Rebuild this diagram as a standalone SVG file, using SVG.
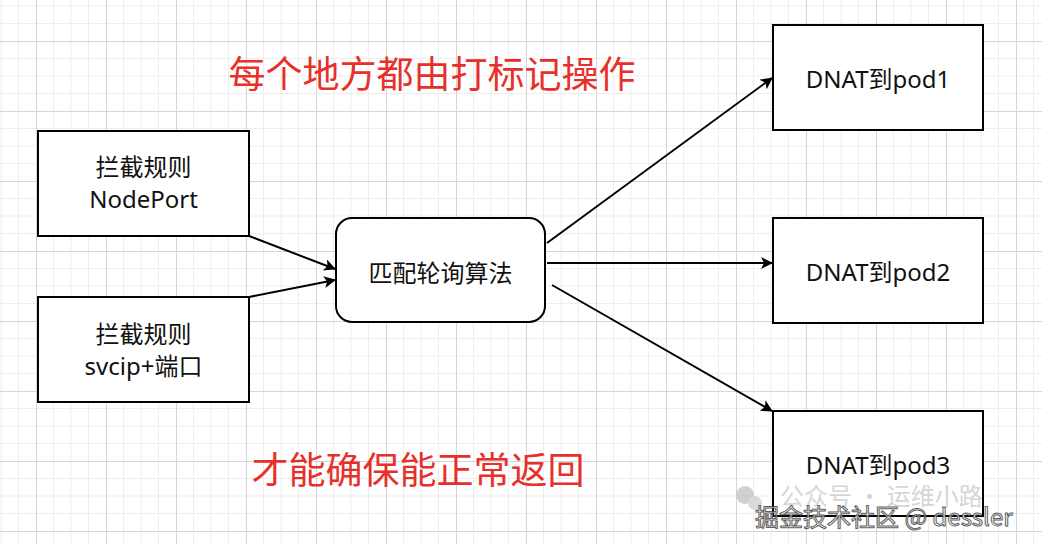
<svg xmlns="http://www.w3.org/2000/svg" width="1042" height="544" viewBox="0 0 1042 544">
<style>
.box{fill:#fff;stroke:#000;stroke-width:2}
.lbl{font-family:"Noto Sans","Noto Sans CJK SC",sans-serif;font-size:24px;fill:#111;text-anchor:middle;dominant-baseline:central}
.red{font-family:"Noto Sans CJK SC",sans-serif;font-size:37px;fill:#e8302a;text-anchor:middle;dominant-baseline:central}
.edge{stroke:#000;stroke-width:2;fill:none;marker-end:url(#ah)}
</style>
<defs>
<pattern id="grid" patternUnits="userSpaceOnUse" x="36" y="41" width="70" height="70">
<path d="M17.5 0V70M35 0V70M52.5 0V70M0 17.5H70M0 35H70M0 52.5H70" stroke="#eeeeee" stroke-width="1" fill="none"/>
<path d="M0.5 0V70M0 0.5H70" stroke="#d6d6d6" stroke-width="1" fill="none"/>
</pattern>
<marker id="ah" viewBox="0 0 12 12" refX="11" refY="6" markerWidth="12" markerHeight="12" markerUnits="userSpaceOnUse" orient="auto">
<path d="M0 0L12 6L0 12L3 6Z" fill="#000"/>
</marker>
</defs>
<rect width="1042" height="544" fill="#fff"/>
<rect width="1042" height="544" fill="url(#grid)"/>
<g id="connectors">
<line class="edge" x1="249" y1="236" x2="335" y2="269"/>
<line class="edge" x1="249" y1="297" x2="335" y2="280"/>
<line class="edge" x1="547" y1="243" x2="772" y2="78"/>
<line class="edge" x1="547" y1="263" x2="772" y2="263"/>
<line class="edge" x1="552" y1="285" x2="772" y2="411"/>
</g>
<g id="nodeport">
<rect class="box" x="38" y="131" width="211" height="105"/>
<text class="lbl" x="143.5" y="166">拦截规则</text>
<text class="lbl" x="143.5" y="198">NodePort</text>
</g>
<g id="svcip">
<rect class="box" x="38" y="297" width="211" height="105"/>
<text class="lbl" x="143.5" y="333">拦截规则</text>
<text class="lbl" x="143.5" y="365">svcip+端口</text>
</g>
<g id="match">
<rect class="box" x="336" y="218" width="209" height="104" rx="16"/>
<text class="lbl" x="440.5" y="272">匹配轮询算法</text>
</g>
<g id="pod1">
<rect class="box" x="773" y="25" width="210" height="105"/>
<text class="lbl" x="878" y="78">DNAT到pod1</text>
</g>
<g id="pod2">
<rect class="box" x="773" y="218" width="210" height="105"/>
<text class="lbl" x="878" y="271">DNAT到pod2</text>
</g>
<g id="pod3">
<rect class="box" x="773" y="411" width="210" height="105"/>
<text class="lbl" x="878" y="464">DNAT到pod3</text>
</g>
<text class="red" x="432" y="72">每个地方都由打标记操作</text>
<text class="red" x="418" y="468">才能确保能正常返回</text>
<g id="watermark" opacity="0.85">
<circle cx="745" cy="495" r="9" fill="#c8c8c8"/>
<circle cx="755" cy="503" r="7" fill="#d4d4d4"/>
<text x="780" y="494" font-family="Noto Sans CJK SC,sans-serif" font-size="24" fill="#cfcfcf" dominant-baseline="central">公众号 · 运维小路</text>
<text x="755" y="515" font-family="Noto Sans CJK SC,sans-serif" font-size="24" fill="#fff" stroke="#444" stroke-width="1" dominant-baseline="central">掘金技术社区 @ dessler</text>
</g>
</svg>
